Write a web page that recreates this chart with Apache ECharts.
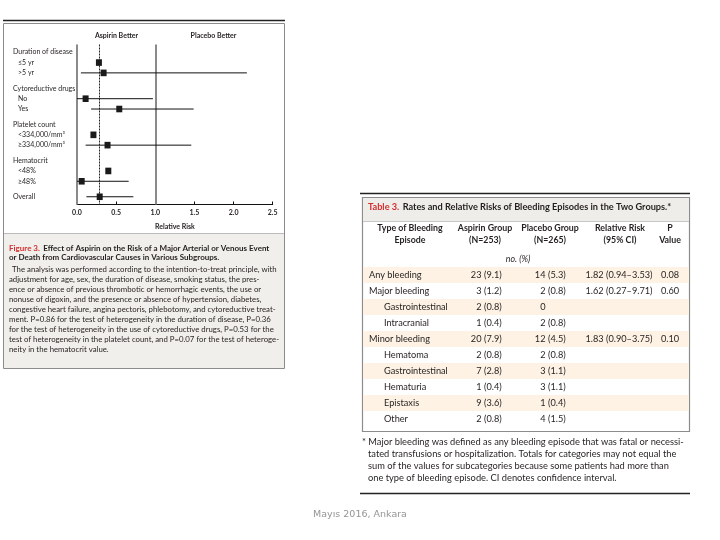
<!DOCTYPE html>
<html>
<head>
<meta charset="utf-8">
<script src="https://cdn.jsdelivr.net/npm/echarts@6/dist/echarts.min.js"></script>
<style>html,body{margin:0;padding:0;background:#fff;}#c{width:720px;height:540px;}</style>
</head>
<body>
<div id="c"></div>
<script>
// ---------- Forest plot data ----------
const subgroupLabels = ['Duration of disease', '≤5 yr', '>5 yr', 'Cytoreductive drugs', 'No', 'Yes',
  'Platelet count', '<334,000/mm³', '≥334,000/mm³', 'Hematocrit', '<48%', '≥48%', 'Overall'];
const subgroupIsHeader = [true, false, false, true, false, false, true, false, false, true, false, false, false];
const relRiskEstimate = [null, 0.28, 0.34, null, 0.11, 0.54, null, 0.21, 0.39, null, 0.40, 0.06, 0.29];
const ciLower = [null, null, 0.05, null, 0.00, 0.18, null, null, 0.11, null, null, 0.00, 0.12];
const ciUpper = [null, null, 2.17, null, 0.97, 1.49, null, null, 1.46, null, null, 0.66, 0.72];
const overallRR = 0.29;
const xTickMin = 0, xTickMax = 2.5, xTickStep = 0.5;

// ---------- Table data ----------
const bleedingTypes = ['Any bleeding', 'Major bleeding', 'Gastrointestinal', 'Intracranial', 'Minor bleeding',
  'Hematoma', 'Gastrointestinal', 'Hematuria', 'Epistaxis', 'Other'];
const bleedingIsSub = [false, false, true, true, false, true, true, true, true, true];
const aspirinCount = [23, 3, 2, 1, 20, 2, 7, 1, 9, 2];
const aspirinPct = ['9.1', '1.2', '0.8', '0.4', '7.9', '0.8', '2.8', '0.4', '3.6', '0.8'];
const placeboCount = [14, 2, 0, 2, 12, 2, 3, 3, 1, 4];
const placeboPct = ['5.3', '0.8', '', '0.8', '4.5', '0.8', '1.1', '1.1', '0.4', '1.5'];
const relRiskCI = ['1.82 (0.94–3.53)', '1.62 (0.27–9.71)', '', '', '1.83 (0.90–3.75)', '', '', '', '', ''];
const pValues = ['0.08', '0.60', '', '', '0.10', '', '', '', '', ''];

const captionTitle1 = 'Effect of Aspirin on the Risk of a Major Arterial or Venous Event';
const captionTitle2 = 'or Death from Cardiovascular Causes in Various Subgroups.';
const captionBody = [
  'The analysis was performed according to the intention-to-treat principle, with',
  'adjustment for age, sex, the duration of disease, smoking status, the pres-',
  'ence or absence of previous thrombotic or hemorrhagic events, the use or',
  'nonuse of digoxin, and the presence or absence of hypertension, diabetes,',
  'congestive heart failure, angina pectoris, phlebotomy, and cytoreductive treat-',
  'ment. P=0.86 for the test of heterogeneity in the duration of disease, P=0.36',
  'for the test of heterogeneity in the use of cytoreductive drugs, P=0.53 for the',
  'test of heterogeneity in the platelet count, and P=0.07 for the test of heteroge-',
  'neity in the hematocrit value.'
];
const footnoteLines = [
  '* Major bleeding was defined as any bleeding episode that was fatal or necessi-',
  'tated transfusions or hospitalization. Totals for categories may not equal the',
  'sum of the values for subcategories because some patients had more than',
  'one type of bleeding episode. CI denotes confidence interval.'
];

// ---------- Build category axis with spacers ----------
const yCats = [''];
const rowCatIndex = [];
subgroupLabels.forEach((lab, i) => {
  if (i > 0) {
    const gap = (subgroupIsHeader[i] || lab === 'Overall') ? 2 : 1;
    for (let k = 0; k < gap; k++) yCats.push('');
  }
  rowCatIndex.push(yCats.length);
  yCats.push(lab);
});
yCats.push('');

const forestData = [];
subgroupLabels.forEach((lab, i) => {
  if (relRiskEstimate[i] != null) {
    forestData.push([relRiskEstimate[i], rowCatIndex[i],
      ciLower[i] == null ? '-' : ciLower[i], ciUpper[i] == null ? '-' : ciUpper[i]]);
  }
});

const FONT = 'Lato, "Open Sans", sans-serif';
const TXT = '#231f20';
const RED = '#d22e2e';

const chart = echarts.init(document.getElementById('c'), null, { renderer: 'canvas' });

const graphics = [];
// Left panel frame
graphics.push({ type: 'line', shape: { x1: 3, y1: 20.5, x2: 285, y2: 20.5 }, style: { stroke: '#222', lineWidth: 1.5 }, z: 1 });
graphics.push({ type: 'rect', shape: { x: 3.5, y: 23.5, width: 281, height: 345 }, style: { fill: '#fff', stroke: '#8c8c8c', lineWidth: 1 }, z: 0 });
graphics.push({ type: 'rect', shape: { x: 4, y: 234, width: 280, height: 134 }, style: { fill: '#f1efeb' }, z: 0 });
graphics.push({ type: 'line', shape: { x1: 4, y1: 233.5, x2: 284, y2: 233.5 }, style: { stroke: '#bbb', lineWidth: 1 }, z: 1 });
// forest headers
graphics.push({ type: 'text', x: 116.5, y: 35.5, style: { text: 'Aspirin Better', font: 'bold 7px ' + FONT, fill: TXT, align: 'center', verticalAlign: 'middle' }, z: 10 });
graphics.push({ type: 'text', x: 213.5, y: 35.5, style: { text: 'Placebo Better', font: 'bold 7px ' + FONT, fill: TXT, align: 'center', verticalAlign: 'middle' }, z: 10 });
// Caption
graphics.push({ type: 'text', x: 9, y: 248.5, style: {
  text: '{r|Figure 3.} {b|' + captionTitle1 + '}',
  rich: { r: { font: 'bold 8px ' + FONT, fill: RED }, b: { font: 'bold 8px ' + FONT, fill: TXT } },
  verticalAlign: 'middle' }, z: 10 });
graphics.push({ type: 'text', x: 9, y: 257.5, style: { text: captionTitle2, font: 'bold 8px ' + FONT, fill: TXT, verticalAlign: 'middle' }, z: 10 });
captionBody.forEach((line, k) => {
  graphics.push({ type: 'text', x: k === 0 ? 12 : 9, y: 269 + k * 10, style: { text: line, font: '7.8px ' + FONT, fill: TXT, verticalAlign: 'middle' }, z: 10 });
});

// Right panel
graphics.push({ type: 'line', shape: { x1: 360, y1: 193.5, x2: 690, y2: 193.5 }, style: { stroke: '#222', lineWidth: 1.5 }, z: 1 });
graphics.push({ type: 'rect', shape: { x: 362.5, y: 197.5, width: 327, height: 234 }, style: { fill: '#fff', stroke: '#8c8c8c', lineWidth: 1.2 }, z: 0 });
graphics.push({ type: 'rect', shape: { x: 363, y: 198, width: 326, height: 23.5 }, style: { fill: '#efede9' }, z: 0 });
graphics.push({ type: 'line', shape: { x1: 363, y1: 221.5, x2: 689, y2: 221.5 }, style: { stroke: '#bbb', lineWidth: 0.8 }, z: 1 });
graphics.push({ type: 'text', x: 368, y: 207, style: {
  text: '{r|Table 3.} {b|Rates and Relative Risks of Bleeding Episodes in the Two Groups.*}',
  rich: { r: { font: 'bold 9.2px ' + FONT, fill: RED }, b: { font: 'bold 9.2px ' + FONT, fill: TXT } },
  verticalAlign: 'middle' }, z: 10 });
const headCols = [
  [410, 'Type of Bleeding', 'Episode'],
  [485, 'Aspirin Group', '(N=253)'],
  [550, 'Placebo Group', '(N=265)'],
  [620, 'Relative Risk', '(95% CI)'],
  [670, 'P', 'Value']
];
headCols.forEach(h => {
  graphics.push({ type: 'text', x: h[0], y: 228.5, style: { text: h[1], font: 'bold 8.8px ' + FONT, fill: TXT, align: 'center', verticalAlign: 'middle' }, z: 10 });
  graphics.push({ type: 'text', x: h[0], y: 240.5, style: { text: h[2], font: 'bold 8.8px ' + FONT, fill: TXT, align: 'center', verticalAlign: 'middle' }, z: 10 });
});
graphics.push({ type: 'text', x: 518, y: 259, style: { text: 'no. (%)', font: 'italic 8.8px ' + FONT, fill: TXT, align: 'center', verticalAlign: 'middle' }, z: 10 });
footnoteLines.forEach((line, k) => {
  graphics.push({ type: 'text', x: k === 0 ? 362 : 368, y: 442 + k * 12, style: { text: line, font: '9.3px ' + FONT, fill: TXT, verticalAlign: 'middle' }, z: 10 });
});
graphics.push({ type: 'line', shape: { x1: 360, y1: 493.5, x2: 690, y2: 493.5 }, style: { stroke: '#222', lineWidth: 1.3 }, z: 1 });
// footer
graphics.push({ type: 'text', x: 360, y: 515, style: { text: 'Mayıs 2016, Ankara', font: '9.5px "DejaVu Sans", sans-serif', fill: '#959595', align: 'center', verticalAlign: 'middle' }, z: 10 });

const tableRows = bleedingTypes.map((t, i) => [0.5, i]);

const option = {
  animation: false,
  backgroundColor: '#fff',
  graphic: { elements: graphics },
  grid: [
    { left: 77, width: 195.7, top: 44.5, height: 160 },
    { left: 363, width: 326, top: 267, height: 160 }
  ],
  xAxis: [
    {
      gridIndex: 0, type: 'value', min: xTickMin, max: xTickMax, interval: xTickStep,
      axisLine: { show: true, lineStyle: { color: '#111', width: 1 } },
      axisTick: { show: true, inside: true, length: 3, lineStyle: { color: '#111' } },
      axisLabel: { fontSize: 7, color: TXT, fontFamily: FONT, margin: 5, fontWeight: 'bold',
        formatter: v => v.toFixed(1) },
      splitLine: { show: false },
      name: 'Relative Risk', nameLocation: 'middle', nameGap: 19,
      nameTextStyle: { fontSize: 7, fontWeight: 'bold', color: TXT, fontFamily: FONT }
    },
    { gridIndex: 1, type: 'value', min: 0, max: 1, show: false }
  ],
  yAxis: [
    {
      gridIndex: 0, type: 'category', data: yCats, inverse: true,
      axisLine: { show: false }, axisTick: { show: false }, splitLine: { show: false },
      axisLabel: {
        interval: 0, align: 'left', margin: 64,
        formatter: v => {
          if (!v) return '';
          const i = subgroupLabels.indexOf(v);
          return (subgroupIsHeader[i] || v === 'Overall') ? '{h|' + v + '}' : '{i|' + v + '}';
        },
        rich: {
          h: { fontSize: 7, color: TXT, fontFamily: FONT },
          i: { fontSize: 7, color: TXT, fontFamily: FONT, padding: [0, 0, 0, 5] }
        }
      }
    },
    { gridIndex: 1, type: 'category', data: bleedingTypes.map((b, i) => i), inverse: true, show: false }
  ],
  series: [
    {
      type: 'custom', xAxisIndex: 0, yAxisIndex: 0, data: forestData, z: 5,
      renderItem: (params, api) => {
        const est = api.value(0), cat = api.value(1), lo = api.value(2), hi = api.value(3);
        const c = api.coord([est, cat]);
        const ch = [];
        if (!isNaN(lo) && !isNaN(hi)) {
          const p1 = api.coord([lo, cat]), p2 = api.coord([hi, cat]);
          ch.push({ type: 'line', shape: { x1: p1[0], y1: c[1], x2: p2[0], y2: c[1] }, style: { stroke: '#111', lineWidth: 1 } });
        }
        ch.push({ type: 'rect', shape: { x: c[0] - 3, y: c[1] - 3.3, width: 6, height: 6.6 }, style: { fill: '#1a1a1a' } });
        return { type: 'group', children: ch };
      },
      markLine: {
        silent: true, symbol: 'none', label: { show: false },
        data: [
          { xAxis: 0, lineStyle: { color: '#8a8a8a', width: 2, type: 'solid' } },
          { xAxis: 1, lineStyle: { color: '#8a8a8a', width: 2, type: 'solid' } },
          { xAxis: overallRR, lineStyle: { color: '#222', width: 1, type: [2, 1] } }
        ]
      }
    },
    {
      type: 'custom', xAxisIndex: 1, yAxisIndex: 1, data: tableRows, z: 3,
      renderItem: (params, api) => {
        const i = api.value(1);
        const cs = params.coordSys;
        const y = api.coord([0, i])[1];
        const band = api.size([0, 1])[1];
        const x0 = cs.x;
        const ch = [];
        if (i % 2 === 0) {
          ch.push({ type: 'rect', shape: { x: x0, y: y - band / 2, width: cs.width, height: band }, style: { fill: '#fdf2e3' } });
        }
        const f = '9.2px ' + FONT;
        const t = (text, x, align) => ({ type: 'text', x: x, y: y, style: { text: text, font: f, fill: TXT, align: align, verticalAlign: 'middle' } });
        ch.push(t(bleedingTypes[i], x0 + (bleedingIsSub[i] ? 21 : 6), 'left'));
        ch.push(t(String(aspirinCount[i]), x0 + 118.5, 'right'));
        ch.push(t('(' + aspirinPct[i] + ')', x0 + 121, 'left'));
        ch.push(t(String(placeboCount[i]), x0 + 182.5, 'right'));
        if (placeboPct[i]) ch.push(t('(' + placeboPct[i] + ')', x0 + 185, 'left'));
        if (relRiskCI[i]) ch.push(t(relRiskCI[i], x0 + 256, 'center'));
        if (pValues[i]) ch.push(t(pValues[i], x0 + 307, 'center'));
        return { type: 'group', children: ch };
      }
    }
  ]
};
chart.setOption(option);
</script>
</body>
</html>
